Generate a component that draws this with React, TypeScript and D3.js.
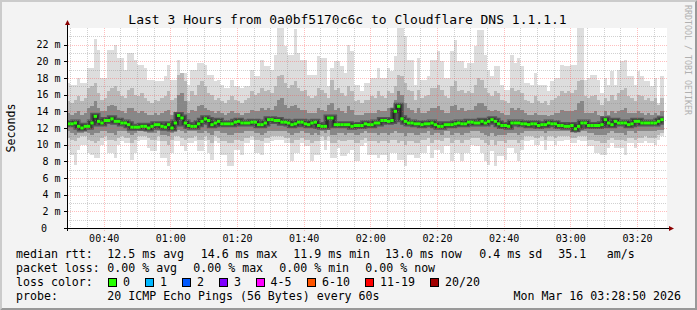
import React from 'react';
import * as d3 from 'd3';

// ---- data (ms), one value per minute starting 00:29 ----
const maxRtt = [
  17.4,17.2,17.2,18.0,17.4,17.4,19.2,19.2,22.7,21.4,
  18.0,18.0,21.4,21.4,22.0,20.4,20.4,19.0,21.0,21.0,
  20.2,19.6,19.6,19.2,17.8,17.8,17.6,17.6,17.6,18.2,
  19.6,17.8,17.8,20.2,18.6,18.6,17.2,19.0,19.0,19.8,
  19.8,19.6,18.4,18.4,17.6,17.8,17.2,16.8,16.8,17.8,
  17.0,17.0,16.8,17.0,17.0,19.0,18.2,18.2,20.2,19.4,
  19.4,19.0,20.8,24.0,24.0,21.8,20.8,20.8,23.9,21.0,
  20.2,20.2,18.4,18.4,18.4,20.6,20.4,20.4,17.0,19.2,
  20.0,20.0,19.4,18.6,22.0,21.2,17.2,17.2,16.4,17.4,
  17.4,18.0,18.0,19.2,18.0,18.0,19.2,18.8,20.6,24.0,
  24.0,23.0,20.2,20.2,17.2,20.4,17.8,17.8,18.2,20.2,
  20.2,21.2,20.0,18.0,18.0,21.2,22.6,20.0,20.0,19.2,
  19.8,19.8,21.8,23.8,23.8,20.8,19.0,18.2,19.4,19.4,
  17.2,16.6,16.6,20.8,19.8,20.4,19.4,17.4,17.4,17.2,
  18.6,17.2,17.2,17.2,16.4,17.6,18.0,18.0,19.6,19.4,
  19.4,19.6,19.6,24.0,24.0,17.8,18.0,18.4,18.4,17.8,
  16.2,18.0,17.2,18.8,17.2,19.0,20.0,20.2,18.2,18.2,
  17.2,18.8,18.2,17.6,17.6,17.0,18.0,15.0,18.2,
];
const minRtt = [
  9.4,8.8,7.6,9.4,10.0,10.0,9.0,8.8,8.4,8.4,
  10.0,10.4,9.0,9.0,8.4,10.0,10.4,10.2,10.2,8.2,
  9.0,10.4,10.6,10.6,9.6,9.2,9.2,10.4,8.4,8.4,
  7.4,9.0,10.4,10.4,9.8,9.2,10.2,10.2,10.4,9.2,
  9.2,10.4,9.0,8.2,10.4,10.2,8.8,8.8,7.4,7.4,
  9.4,9.4,8.8,10.2,10.2,10.6,9.0,9.0,8.8,10.2,
  10.2,10.4,10.6,10.6,10.6,10.2,10.2,8.0,9.0,9.0,
  10.2,9.8,9.8,8.0,8.8,8.8,10.4,9.4,10.4,8.4,
  8.4,9.6,8.6,8.6,9.0,9.4,8.0,8.0,9.8,10.2,
  8.8,8.8,8.8,8.4,8.8,8.8,8.0,9.0,9.0,8.2,
  8.2,7.4,8.8,8.8,8.4,8.4,9.0,9.0,9.8,8.4,
  9.4,9.4,9.0,9.8,9.8,8.0,9.0,9.0,8.0,9.0,
  9.0,10.0,9.8,9.8,9.0,8.0,7.6,9.2,7.4,8.6,
  8.6,8.2,9.6,9.6,9.0,8.0,9.4,10.4,10.4,10.6,
  10.0,10.0,10.4,9.4,10.4,10.4,10.0,10.4,10.4,10.6,
  10.6,10.2,10.2,10.6,10.4,10.4,9.8,9.8,9.0,9.0,
  8.8,8.8,9.6,10.2,9.6,9.6,9.6,8.8,10.2,10.2,
  9.6,10.2,10.2,10.4,10.2,10.2,10.0,10.6,11.0,
];
const upperMid = [
  15.2,15.0,15.4,15.8,15.2,15.6,16.8,17.0,17.4,16.2,
  15.4,15.6,16.4,16.8,17.0,16.4,15.8,15.6,16.6,16.8,
  16.0,15.8,16.2,15.6,15.2,15.0,15.4,15.2,15.6,15.8,
  16.4,15.4,15.6,18.4,18.6,17.6,15.2,16.4,16.0,17.2,
  17.6,17.0,16.2,16.0,15.4,15.6,15.2,15.0,15.4,15.8,
  15.4,15.2,15.0,15.4,15.6,16.4,16.0,16.2,16.8,16.4,
  16.6,16.2,17.0,18.2,18.4,17.4,16.8,17.2,17.6,16.8,
  16.4,16.6,15.8,15.6,15.8,16.8,16.6,16.2,15.6,17.8,
  16.6,16.8,16.2,15.8,17.0,16.4,15.2,15.4,15.0,15.4,
  15.4,15.8,15.6,16.4,15.8,15.6,16.4,16.2,17.0,18.4,
  18.2,17.4,16.6,16.4,15.4,16.6,15.6,15.8,16.0,16.8,
  16.8,17.2,16.6,15.8,15.6,17.0,17.6,16.4,16.6,16.2,
  16.4,16.2,17.2,18.0,17.8,16.8,16.2,15.8,16.4,16.2,
  15.4,15.2,15.0,16.8,16.4,16.6,16.2,15.4,15.2,15.0,
  15.8,15.2,15.0,15.2,14.8,15.4,15.6,15.8,16.4,16.2,
  16.4,16.2,16.6,17.6,17.8,15.8,15.6,15.8,16.0,15.4,
  14.8,15.6,15.2,16.0,15.4,16.2,16.6,16.8,15.8,15.6,
  15.2,16.0,15.8,15.4,15.6,15.2,15.6,14.8,15.6,
];
const lowerMid = [
  10.8,10.6,10.4,10.8,11.0,11.0,10.6,10.4,10.2,10.4,
  10.8,11.0,10.6,10.6,10.4,10.8,11.0,10.8,10.8,10.2,
  10.6,11.0,11.0,11.0,10.8,10.6,10.6,11.0,10.4,10.4,
  10.0,10.6,11.0,11.0,10.8,10.6,10.8,10.8,11.0,10.6,
  10.6,11.0,10.6,10.2,11.0,10.8,10.4,10.4,10.2,10.2,
  10.6,10.6,10.4,10.8,10.8,11.0,10.6,10.6,10.4,10.8,
  10.8,11.0,11.0,11.0,11.0,10.8,10.8,10.2,10.6,10.6,
  10.8,10.6,10.6,10.2,10.4,10.4,11.0,10.6,11.0,10.2,
  10.2,10.6,10.4,10.4,10.6,10.6,10.2,10.2,10.6,10.8,
  10.4,10.4,10.4,10.2,10.4,10.4,10.2,10.6,10.6,10.2,
  10.4,10.0,10.4,10.4,10.2,10.2,10.6,10.6,10.8,10.2,
  10.6,10.6,10.4,10.8,10.8,10.2,10.6,10.6,10.2,10.6,
  10.6,10.8,10.8,10.8,10.6,10.2,10.0,10.6,10.0,10.4,
  10.4,10.2,10.6,10.6,10.6,10.2,10.6,11.0,11.0,11.0,
  10.8,10.8,11.0,10.6,11.0,11.0,10.8,11.0,11.0,11.0,
  11.0,10.8,10.8,11.0,11.0,11.0,10.6,10.6,10.4,10.4,
  10.2,10.2,10.6,10.8,10.6,10.6,10.6,10.4,10.8,10.8,
  10.6,10.8,10.8,11.0,10.8,10.8,10.8,11.2,11.4,
];
const upperCore = [
  13.8,13.6,13.8,14.0,13.6,13.8,14.4,14.6,15.2,14.4,
  14.0,14.0,14.6,14.8,14.6,14.2,14.0,13.8,14.4,14.4,
  14.0,13.8,14.0,13.8,13.6,13.6,13.8,13.6,13.8,14.0,
  14.2,13.6,13.8,16.0,16.2,15.2,13.8,14.2,14.0,14.6,
  14.8,14.4,14.2,14.0,13.8,14.0,13.8,13.6,13.8,14.0,
  13.8,13.8,13.6,13.8,13.8,14.2,14.0,14.0,14.4,14.2,
  14.4,14.2,14.6,15.4,15.6,14.8,14.4,14.6,14.8,14.4,
  14.2,14.2,13.8,13.8,13.8,14.4,14.2,14.0,14.8,15.0,
  14.2,14.4,14.0,13.8,14.6,14.2,13.6,13.6,13.6,13.8,
  13.8,13.8,13.8,14.2,14.0,14.0,14.4,14.2,15.4,16.4,
  16.0,15.0,14.4,14.2,13.8,14.4,13.8,13.8,14.0,14.4,
  14.4,14.6,14.2,13.8,13.8,14.6,14.8,14.2,14.4,14.0,
  14.2,14.2,14.6,15.0,15.0,14.6,14.2,14.0,14.2,14.0,
  13.8,13.6,13.6,14.4,14.2,14.4,14.2,13.8,13.6,13.6,
  13.8,13.6,13.6,13.6,13.4,13.6,13.8,13.8,14.2,14.0,
  14.0,14.0,14.2,15.0,15.2,13.8,13.8,13.8,14.0,13.6,
  13.4,14.0,13.6,14.0,13.8,14.0,14.2,14.4,13.8,13.8,
  13.8,14.0,13.8,13.6,13.8,13.6,13.8,13.6,14.0,
];
const lowerCore = [
  11.6,11.4,11.2,11.4,11.4,11.6,11.4,11.2,11.4,11.4,
  11.6,11.6,11.4,11.4,11.2,11.6,11.6,11.6,11.4,11.2,
  11.4,11.6,11.6,11.6,11.4,11.4,11.4,11.6,11.2,11.2,
  11.0,11.4,11.6,11.8,11.6,11.4,11.6,11.6,11.6,11.4,
  11.4,11.6,11.4,11.2,11.6,11.6,11.4,11.4,11.2,11.2,
  11.4,11.4,11.4,11.6,11.6,11.6,11.4,11.4,11.2,11.4,
  11.6,11.6,11.6,11.6,11.6,11.6,11.4,11.2,11.4,11.4,
  11.6,11.4,11.4,11.2,11.4,11.2,11.6,11.4,11.8,11.2,
  11.2,11.4,11.4,11.2,11.4,11.4,11.2,11.2,11.4,11.6,
  11.4,11.4,11.4,11.2,11.4,11.4,11.2,11.4,11.6,11.4,
  11.4,11.0,11.4,11.4,11.2,11.2,11.4,11.4,11.6,11.2,
  11.4,11.4,11.2,11.6,11.6,11.2,11.4,11.4,11.2,11.4,
  11.4,11.6,11.6,11.6,11.4,11.2,11.0,11.4,11.0,11.2,
  11.2,11.2,11.4,11.4,11.4,11.2,11.4,11.6,11.6,11.6,
  11.6,11.6,11.6,11.4,11.6,11.6,11.6,11.6,11.6,11.6,
  11.6,11.6,11.4,11.6,11.6,11.6,11.4,11.4,11.2,11.2,
  11.2,11.2,11.4,11.6,11.4,11.4,11.4,11.2,11.6,11.6,
  11.4,11.6,11.6,11.6,11.6,11.6,11.6,11.8,11.8,
];
const medianRtt = [
  12.5,12.5,12.6,12.2,12.0,12.2,12.2,12.6,13.4,12.8,
  12.6,12.9,12.9,13.1,12.8,12.8,12.6,12.6,12.4,12.1,
  12.1,12.1,12.2,12.2,12.0,12.2,12.4,12.4,12.2,12.1,
  12.4,12.0,12.6,13.5,13.2,12.6,12.3,12.2,12.2,12.5,
  12.8,13.1,12.9,12.4,12.6,12.8,12.5,12.5,12.5,12.5,
  12.7,12.8,12.6,12.6,12.6,12.7,12.7,12.4,12.4,12.6,
  13.0,13.0,12.9,12.9,12.7,12.7,12.6,12.4,12.5,12.7,
  12.7,12.5,12.4,12.6,12.7,12.3,12.2,12.2,13.2,13.2,
  12.4,12.4,12.4,12.4,12.4,12.2,12.3,12.3,12.3,12.5,
  12.4,12.4,12.6,12.6,12.9,12.9,12.8,12.9,14.0,14.6,
  13.1,12.8,12.6,12.6,12.5,12.5,12.4,12.5,12.5,12.6,
  12.4,12.2,12.2,12.4,12.4,12.4,12.5,12.6,12.5,12.5,
  12.7,12.7,12.6,12.6,12.8,12.6,12.8,13.0,12.8,12.5,
  12.3,12.3,12.2,12.6,12.6,12.6,12.5,12.5,12.4,12.5,
  12.5,12.3,12.4,12.4,12.6,12.5,12.5,12.3,12.3,12.2,
  12.2,12.3,11.9,12.2,12.6,12.6,12.3,12.3,12.3,12.3,
  12.4,13.0,12.6,12.4,12.8,12.6,12.6,12.6,12.4,12.5,
  12.8,12.8,12.6,12.6,12.6,12.6,12.6,12.8,13.0,
];

const yTickValues = [0, 2, 4, 6, 8, 10, 12, 14, 16, 18, 20, 22];
const xTickLabels = ['00:40', '01:00', '01:20', '01:40', '02:00', '02:20', '02:40', '03:00', '03:20'];
const startMinuteOfDay = 29; // 00:29
const spanMinutes = 180;

const titleText = 'Last 3 Hours from 0a0bf5170c6c to Cloudflare DNS 1.1.1.1';
const yAxisTitle = 'Seconds';
const watermark = 'RRDTOOL / TOBI OETIKER';

const rttLegend = [
  { x: 16, t: 'median rtt:' },
  { x: 107.3, t: '12.5 ms avg' },
  { x: 200.7, t: '14.6 ms max' },
  { x: 293.3, t: '11.9 ms min' },
  { x: 385, t: '13.0 ms now' },
  { x: 479.3, t: '0.4 ms sd' },
  { x: 558.3, t: '35.1' },
  { x: 606.7, t: 'am/s' },
];
const lossLegend = [
  { x: 16, t: 'packet loss:' },
  { x: 107.3, t: '0.00 % avg' },
  { x: 193.3, t: '0.00 % max' },
  { x: 279.3, t: '0.00 % min' },
  { x: 365.3, t: '0.00 % now' },
];
const lossColors = [
  { x: 108.5, label: '0', color: '#26ff00' },
  { x: 145.5, label: '1', color: '#00b8ff' },
  { x: 182.5, label: '2', color: '#0059ff' },
  { x: 219.5, label: '3', color: '#7e00ff' },
  { x: 256, label: '4-5', color: '#ff00ff' },
  { x: 307.5, label: '6-10', color: '#ff5500' },
  { x: 365.5, label: '11-19', color: '#ff0000' },
  { x: 430.5, label: '20/20', color: '#a10000' },
];
const probeLabel = 'probe:';
const probeText = '20 ICMP Echo Pings (56 Bytes) every 60s';
const dateText = 'Mon Mar 16 03:28:50 2026';

const MONO = '"DejaVu Sans Mono", "Liberation Mono", monospace';

export default function App() {
  const W = 697, H = 310;
  const left = 67, right = 667, top = 28, bottom = 228;
  const x = d3.scaleLinear().domain([0, spanMinutes]).range([left, right]);
  const y = d3.scaleLinear().domain([0, 24]).range([bottom, top]);
  const n = medianRtt.length;
  const idx = d3.range(n + 1).map((i) => Math.min(i, n - 1));

  const band = (lo: number[], hi: number[]) =>
    d3.area<number>()
      .x((_k, j) => x(j))
      .y0((k) => y(lo[k]))
      .y1((k) => y(hi[k]))
      .curve(d3.curveStepAfter)(idx) || '';

  const medLine = d3.line<number>()
    .x((_k, j) => x(j))
    .y((k) => y(medianRtt[k]))
    .curve(d3.curveStepAfter)(idx) || '';

  const minorX: number[] = [];
  const majorX: number[] = [];
  for (let m = 0; m <= spanMinutes; m++) {
    const mod = (startMinuteOfDay + m) % 60;
    if (mod % 20 === 0) majorX.push(m);
    else if (mod % 5 === 0) minorX.push(m);
  }
  const toOffset = (s: string) => {
    const [h, mm] = s.split(':').map(Number);
    return h * 60 + mm - startMinuteOfDay;
  };
  const minorY = d3.range(1, 24).filter((v) => v % 2 === 1);
  const majorY = yTickValues.filter((v) => v > 0);

  const gridMinor = 'rgba(140,140,140,0.4)';
  const gridMajor = 'rgba(255,70,70,0.35)';

  return (
    <svg width={W} height={H} style={{ position: 'absolute', left: 0, top: 0 }} fontFamily={MONO}>
      <rect x={0} y={0} width={W} height={H} fill="#f3f3f3" />
      {/* 3D frame */}
      <polygon points={`0,0 ${W},0 ${W - 2},2 2,2 2,${H - 2} 0,${H}`} fill="#cbcbcb" />
      <polygon points={`${W},0 ${W},${H} 0,${H} 2,${H - 2} ${W - 2},${H - 2} ${W - 2},2`} fill="#999999" />

      <rect x={left} y={top} width={right - left} height={bottom - top} fill="#ffffff" />

      {/* smoke */}
      <g shapeRendering="crispEdges">
        <path d={band(minRtt, maxRtt)} fill="#dddddd" />
        <path d={band(lowerMid, upperMid)} fill="#b8b8b8" />
        <path d={band(lowerCore, upperCore)} fill="#878787" />
      </g>
      <path d={medLine} fill="none" stroke="#555555" strokeWidth={7} />
      <path d={medLine} fill="none" stroke="#3a3a3a" strokeWidth={4} />

      {/* grid */}
      <g strokeWidth={1} strokeDasharray="1,1" shapeRendering="crispEdges">
        {minorX.map((m) => (
          <line key={'mx' + m} x1={x(m) + 0.5} x2={x(m) + 0.5} y1={top} y2={bottom} stroke={gridMinor} />
        ))}
        {minorY.map((v) => (
          <line key={'my' + v} x1={left} x2={right} y1={y(v) + 0.5} y2={y(v) + 0.5} stroke={gridMinor} />
        ))}
        {majorX.map((m) => (
          <line key={'Mx' + m} x1={x(m) + 0.5} x2={x(m) + 0.5} y1={top} y2={bottom + 3} stroke={gridMajor} />
        ))}
        {majorY.map((v) => (
          <line key={'My' + v} x1={left - 3} x2={right} y1={y(v) + 0.5} y2={y(v) + 0.5} stroke={gridMajor} />
        ))}
      </g>

      {/* median */}
      <path d={medLine} fill="none" stroke="#202020" strokeWidth={1} />
      <g>
        {medianRtt.map((v, i) => (
          <line key={'g' + i} x1={x(i)} x2={x(i + 1)} y1={y(v)} y2={y(v)} stroke="#26ff00" strokeWidth={3} />
        ))}
      </g>

      {/* axes */}
      <g shapeRendering="crispEdges">
        <line x1={left - 3} x2={right + 2} y1={bottom + 0.5} y2={bottom + 0.5} stroke="#000" />
        <line x1={left + 0.5} x2={left + 0.5} y1={bottom + 3} y2={top - 4} stroke="#000" />
        {yTickValues.map((v) => (
          <line key={'yt' + v} x1={left - 3} x2={left} y1={y(v) + 0.5} y2={y(v) + 0.5} stroke="#000" />
        ))}
      </g>
      <polygon points={`${left - 2},${top - 3} ${left + 3},${top - 3} ${left + 0.5},${top - 8}`} fill="#8b0000" />
      <polygon points={`${right + 2},${bottom - 2} ${right + 2},${bottom + 3} ${right + 7},${bottom + 0.5}`} fill="#8b0000" />

      {/* axis labels */}
      <g fontSize={10} fill="#000">
        {yTickValues.map((v) => (
          <text key={'yl' + v} x={v === 0 ? 47 : 60.5} y={y(v) + 3.6} textAnchor="end">
            {v === 0 ? '0' : `${v} m`}
          </text>
        ))}
        {xTickLabels.map((s) => (
          <text key={s} x={x(toOffset(s)) + 0.5} y={241.5} textAnchor="middle">{s}</text>
        ))}
      </g>

      {/* title */}
      <text x={347.5} y={23.5} textAnchor="middle" fontSize={13} fill="#000">{titleText}</text>
      <text transform={`translate(14.5,${(top + bottom) / 2}) rotate(-90)`} textAnchor="middle" fontSize={11.6} fill="#000">
        {yAxisTitle}
      </text>
      <text transform="translate(685,5) rotate(90)" fontSize={8.3} fill="#b0b0b0">{watermark}</text>

      {/* legend */}
      <g fontSize={11.6} fill="#000">
        {rttLegend.map((s) => (
          <text key={'r' + s.x} x={s.x} y={258} xmlSpace="preserve">{s.t}</text>
        ))}
        {lossLegend.map((s) => (
          <text key={'l' + s.x} x={s.x} y={272} xmlSpace="preserve">{s.t}</text>
        ))}
        <text x={16} y={286}>loss color:</text>
        {lossColors.map((c) => (
          <g key={c.label}>
            <rect x={c.x} y={278.5} width={8} height={8} fill={c.color} stroke="#000" strokeWidth={1} shapeRendering="crispEdges" />
            <text x={c.x + 14.5} y={286}>{c.label}</text>
          </g>
        ))}
        <text x={16} y={300}>{probeLabel}</text>
        <text x={107.3} y={300}>{probeText}</text>
        <text x={681} y={300} textAnchor="end">{dateText}</text>
      </g>
    </svg>
  );
}
